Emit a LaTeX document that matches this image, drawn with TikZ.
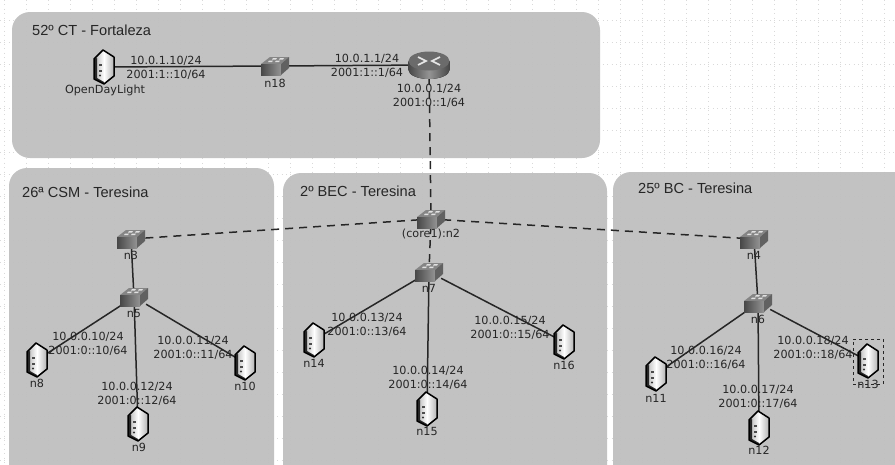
\documentclass[tikz,border=0pt]{standalone}
\usepackage{fontspec}
\setmainfont{DejaVu Sans}
\newfontfamily\titlefont{Liberation Sans}
\usetikzlibrary{backgrounds}
\definecolor{regionfill}{HTML}{C0C0C0}
\definecolor{ink}{HTML}{262626}
\tikzset{
  x=1pt,y=-1pt,
  region/.style={fill=regionfill,fill opacity=.97,rounded corners=18pt,draw=none},
  regiontitle/.style={anchor=west,inner sep=0pt,text=ink,font=\titlefont\fontsize{14.6}{16}\selectfont},
  addr/.style={inner sep=0pt,align=center,text=ink,font=\fontsize{11.2}{14}\selectfont},
  hostname/.style={inner sep=0pt,text=ink,font=\fontsize{11.2}{13}\selectfont},
  wire/.style={draw=ink,line width=1.5pt},
  tunnel/.style={draw=ink,line width=1.5pt,dash pattern=on 8pt off 6pt},
  gridline/.style={black!15,line width=.5pt,dash pattern=on .7pt off 3.7pt},
  srvbox/.style={draw=none,fill=none,inner sep=0pt,minimum width=18pt,minimum height=28pt},
  swbox/.style={draw=none,fill=none,inner sep=0pt,minimum width=24pt,minimum height=14pt},
  rtbox/.style={draw=none,fill=none,inner sep=0pt,minimum width=38pt,minimum height=24pt},
}
\newcommand{\netsrv}[3]{%
  \node[srvbox] (#1) at (#2,#3) {};
  \begin{scope}[shift={(#2,#3)}]
    \fill[left color=black!30,right color=black!30,middle color=white]
      (-10,-8) -- (-1,-17) -- (10,-10) -- (10,9) -- (0,17) -- (-10,12) -- cycle;
    \fill[black!85] (-10,-8) -- (-7,-9) -- (-7,11) -- (0,15) -- (0,17) -- (-10,12) -- cycle;
    \fill[black!70] (-5.5,-3) rectangle (-2,-1);
    \fill[black!70] (-5.5,3) rectangle (-2.5,5);
    \fill[black!80] (-4,8.5) circle (1.1);
    \draw[black,line width=1.5pt,line join=round]
      (-10,-8) -- (-1,-17) -- (10,-10) -- (10,9) -- (0,17) -- (-10,12) -- cycle;
  \end{scope}}
\newcommand{\netsw}[3]{%
  \node[swbox] (#1) at (#2,#3) {};
  \begin{scope}[shift={(#2,#3)}]
    \fill[black!48] (-14,-2) -- (-5,-9) -- (14,-9) -- (6,-2) -- cycle;
    \fill[left color=black!72,right color=black!42] (-14,-2) rectangle (6,9);
    \fill[black!62] (6,-2) -- (14,-9) -- (14,2) -- (6,9) -- cycle;
    \fill[white!88!black] (-7,-4) -- (-3,-4) -- (-2,-5.5) -- (-6,-5.5) -- cycle;
    \fill[white!88!black] (0,-4) -- (4,-4) -- (5,-5.5) -- (1,-5.5) -- cycle;
    \fill[white!88!black] (-3,-6.5) -- (1,-6.5) -- (2,-8) -- (-2,-8) -- cycle;
    \fill[white!88!black] (4,-6.5) -- (8,-6.5) -- (9,-8) -- (5,-8) -- cycle;
  \end{scope}}
\newcommand{\netrt}[3]{%
  \node[rtbox] (#1) at (#2,#3) {};
  \begin{scope}[shift={(#2,#3)}]
    \fill[left color=black!72,right color=black!72,middle color=black!42]
      (-20.5,-4) -- (-20.5,5) arc[start angle=180,end angle=0,x radius=20.5,y radius=9] -- (20.5,-4) -- cycle;
    \fill[black!58] (0,-4) ellipse[x radius=20.5,y radius=9.5];
    \draw[white!90!black,line width=1.6pt] (-11,-8) -- (-3,-4) -- (-11,0);
    \draw[white!90!black,line width=1.6pt] (11,-8) -- (3,-4) -- (11,0);
  \end{scope}}
\begin{document}
\begin{tikzpicture}
\useasboundingbox (0,0) rectangle (895,464);
% nodes
\netsrv{odl}{104}{67}
\netsw{n18}{275}{66}
\netrt{rt}{429}{65}
\netsw{n2}{431}{219}
\netsw{n3}{131}{239}
\netsw{n5}{134}{297}
\netsrv{n8}{37}{360}
\netsrv{n9}{138}{424}
\netsrv{n10}{245}{363}
\netsw{n7}{429}{272}
\netsrv{n14}{314}{340}
\netsrv{n15}{427}{409}
\netsrv{n16}{564}{342}
\netsw{n4}{754}{239}
\netsw{n6}{758}{303}
\netsrv{n11}{656}{374}
\netsrv{n12}{759}{428}
\netsrv{n13}{868}{361}
% selection box
\node[draw=ink,dashed,line width=.7pt,inner sep=0pt,minimum width=30pt,minimum height=45pt] (sel) at (868,361.5) {};
% host names
\node[hostname] (todl) at (105,90) {OpenDayLight};
\node[hostname] (tn18) at (275,83) {n18};
\node[hostname] (tn2) at (431,234) {(core1):n2};
\node[hostname] (tn3) at (131,255) {n3};
\node[hostname] (tn5) at (134,313) {n5};
\node[hostname] (tn8) at (37,383) {n8};
\node[hostname] (tn9) at (139,447) {n9};
\node[hostname] (tn10) at (245,386) {n10};
\node[hostname] (tn7) at (429,288) {n7};
\node[hostname] (tn14) at (314,363) {n14};
\node[hostname] (tn15) at (427,431) {n15};
\node[hostname] (tn16) at (564,365) {n16};
\node[hostname] (tn4) at (754,255) {n4};
\node[hostname] (tn6) at (758,319) {n6};
\node[hostname] (tn11) at (656,398) {n11};
\node[hostname] (tn12) at (759,450) {n12};
\node[hostname] (tn13) at (868,384) {n13};
% addresses
\node[addr] (a1) at (166,68) {10.0.1.10/24\\2001:1::10/64};
\node[addr] (a2) at (367,66) {10.0.1.1/24\\2001:1::1/64};
\node[addr] (a3) at (429,96) {10.0.0.1/24\\2001:0::1/64};
\node[addr] (a4) at (88,344) {10.0.0.10/24\\2001:0::10/64};
\node[addr] (a5) at (193,348) {10.0.0.11/24\\2001:0::11/64};
\node[addr] (a6) at (137,394) {10.0.0.12/24\\2001:0::12/64};
\node[addr] (a7) at (367,325) {10.0.0.13/24\\2001:0::13/64};
\node[addr] (a8) at (428,378) {10.0.0.14/24\\2001:0::14/64};
\node[addr] (a9) at (510,328) {10.0.0.15/24\\2001:0::15/64};
\node[addr] (a10) at (706,358) {10.0.0.16/24\\2001:0::16/64};
\node[addr] (a11) at (758,397) {10.0.0.17/24\\2001:0::17/64};
\node[addr] (a12) at (813,348) {10.0.0.18/24\\2001:0::18/64};
% region titles
\node[regiontitle] (r1) at (32,30) {52º CT - Fortaleza};
\node[regiontitle] (r2) at (22,192) {26ª CSM - Teresina};
\node[regiontitle] (r3) at (300,191) {2º BEC - Teresina};
\node[regiontitle] (r4) at (638,188) {25º BC - Teresina};
\begin{pgfonlayer}{background}
  \begin{scope}
    \clip (0,0) rectangle (895,464);
    \foreach \gx in {4,26,...,895}
      \draw[gridline] (\gx,0) -- (\gx,464);
    \foreach \gy in {20,42,...,464}
      \draw[gridline] (0,\gy) -- (895,\gy);
    \fill[region] (12,12) rectangle (600,158);
    \fill[region] (9,168) rectangle (274,500);
    \fill[region] (283,173) rectangle (607,500);
    \fill[region] (613,172) rectangle (930,500);
  \end{scope}
  % connectors
  \draw[wire] (odl) -- (n18);
  \draw[wire] (n18) -- (rt);
  \draw[tunnel] (rt) -- (n2);
  \draw[tunnel] (n2) -- (n3);
  \draw[tunnel] (n2) -- (n4);
  \draw[tunnel] (n2) -- (n7);
  \draw[wire] (n3) -- (n5);
  \draw[wire] (n5) -- (n8);
  \draw[wire] (n5) -- (n9);
  \draw[wire] (n5) -- (n10);
  \draw[wire] (n7) -- (n14);
  \draw[wire] (n7) -- (n15);
  \draw[wire] (n7) -- (n16);
  \draw[wire] (n4) -- (n6);
  \draw[wire] (n6) -- (n11);
  \draw[wire] (n6) -- (n12);
  \draw[wire] (n6) -- (n13);
\end{pgfonlayer}
\end{tikzpicture}
\end{document}
